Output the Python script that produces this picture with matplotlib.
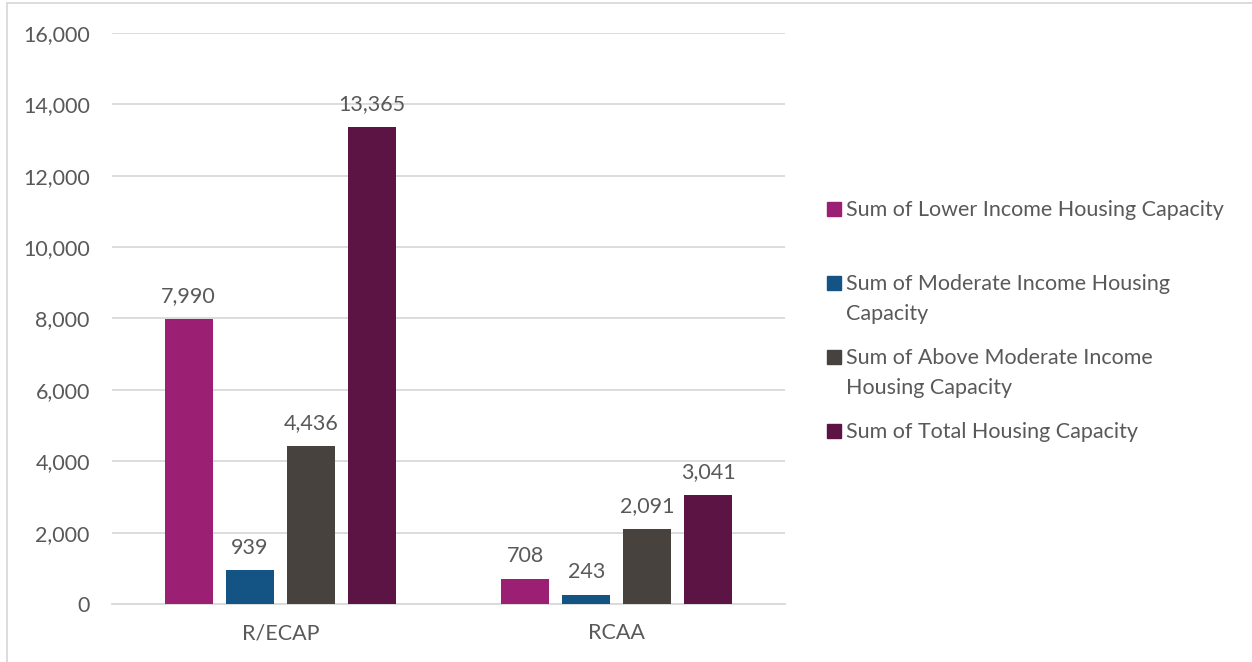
import matplotlib
matplotlib.use("Agg")
import matplotlib.pyplot as plt
from matplotlib.patches import Rectangle
import numpy as np

categories = ["R/ECAP", "RCAA"]
series_names = [
    "Sum of Lower Income Housing Capacity",
    "Sum of Moderate Income Housing\nCapacity",
    "Sum of Above Moderate Income\nHousing Capacity",
    "Sum of Total Housing Capacity",
]
lower = [7990, 708]
moderate = [939, 243]
above = [4436, 2091]
total = [13365, 3041]
colors = ["#9B2074", "#145485", "#48423F", "#5C1445"]
yticks = [0, 2000, 4000, 6000, 8000, 10000, 12000, 14000, 16000]

FONT = "Lato"
TXT = "#595959"
FS = 15.5
plt.rcParams["font.family"] = [FONT, "DejaVu Sans"]

W, H = 1252, 662
fig = plt.figure(figsize=(W / 100, H / 100), dpi=100)
ax = fig.add_axes([112 / W, 1 - 604 / H, (785 - 112) / W, (604 - 33) / H])

x = np.arange(len(categories))
width = 48 / 336.5
step = 61 / 336.5
offsets = [-1.5 * step, -0.5 * step, 0.5 * step, 1.5 * step]
allser = [lower, moderate, above, total]
for s, off, c in zip(allser, offsets, colors):
    bars = ax.bar(x + off, s, width=width, color=c, zorder=3)
    for b, v in zip(bars, s):
        ax.annotate(f"{v:,}", (b.get_x() + b.get_width() / 2, v), xytext=(0, 12.2),
                    textcoords="offset points", ha="center", va="baseline",
                    fontsize=FS, color=TXT)

ax.set_xlim(-0.5, 1.5)
ax.set_ylim(0, 16000)
ax.set_yticks(yticks)
ax.set_yticklabels([f"{t:,}" for t in yticks])
ax.yaxis.grid(True, color="#D9D9D9", linewidth=1.3, zorder=0)
ax.set_xticks(x)
ax.set_xticklabels(categories)
for sp in ["top", "right", "left"]:
    ax.spines[sp].set_visible(False)
ax.spines["bottom"].set_color("#D9D9D9")
ax.spines["bottom"].set_linewidth(1.3)
ax.tick_params(axis="both", length=0, labelsize=FS, colors=TXT)
ax.tick_params(axis="y", pad=16)
ax.tick_params(axis="x", pad=14)

# legend (manual placement)
leg_y = [209, 283, 357, 431]
for name, c, yy in zip(series_names, colors, leg_y):
    fig.patches.append(Rectangle((827 / W, 1 - (yy + 7) / H), 14 / W, 14 / H,
                                 transform=fig.transFigure, color=c))
    for k, line in enumerate(name.split("\n")):
        fig.text(846 / W, 1 - (yy + 7.5 + 30 * k) / H, line, ha="left", va="baseline",
                 fontsize=FS, color=TXT)

# chart border
fig.patches.append(Rectangle((7 / W, -0.1), 1.2, 1 - 3 / H + 0.1, transform=fig.transFigure,
                             fill=False, edgecolor="#D9D9D9", linewidth=1.3))

fig.savefig("out.png", dpi=100)
